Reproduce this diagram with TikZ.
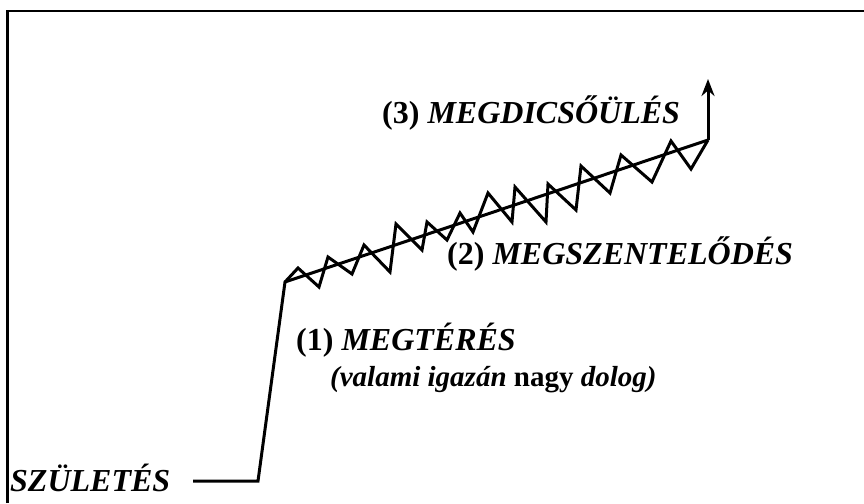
\documentclass[tikz,border=0pt]{standalone}
\usepackage{fontspec}
\setmainfont{Liberation Serif}
\usetikzlibrary{arrows.meta}
\begin{document}
\begin{tikzpicture}[x=1pt, y=-1pt,
  every node/.style={inner sep=0pt, font=\fontsize{32}{36}\selectfont\bfseries\itshape},
  stage/.style={anchor=base west},
  note/.style={anchor=base west, font=\fontsize{29}{34}\selectfont\bfseries\itshape},
  curve/.style={line width=3pt, line join=miter},
  frame/.style={line width=2.7pt}
]
\useasboundingbox (0,0) rectangle (864,503);
\draw[frame] (7.3,503) -- (7.3,11) -- (864,11);
% Pontok
\coordinate (kezdet) at (193,481);
\coordinate (sarok) at (258,481);
\coordinate (fordulo) at (285,282);
\coordinate (csucs) at (708,140);
\coordinate (nyil) at (708,79);
% Feliratok
\node[stage] (szul) at (10,491) {SZÜLETÉS};
\node[stage] (megter) at (296,350) {{\upshape(1)} MEGTÉRÉS};
\node[note] (dolog) at (330,386) {(valami igazán {\upshape nagy} dolog)};
\node[stage] (szent) at (447,264) {{\upshape(2)} MEGSZENTELŐDÉS};
\node[stage] (dicso) at (382,123) {{\upshape(3)} MEGDICSŐÜLÉS};
% Az ut
\draw[curve] (kezdet) -- (sarok) -- (fordulo) -- (csucs);
\draw[curve, -{Stealth[length=17pt, width=13pt]}] (csucs) -- (nyil);
% Hullamvonal
\draw[curve] (fordulo)
  foreach \p in {(298,268),(319,287),(328,257),(352,274),(364,245),(390,272),
    (396,224),(422,250),(427,222),(447,240),(460,213),(473,232),(488,193),
    (512,222),(515,187),(546,222),(548,184),(576,210),(581,166),(610,193),
    (621,155),(652,182),(671,141),(691,169)} { -- \p } -- (csucs);
\end{tikzpicture}
\end{document}
